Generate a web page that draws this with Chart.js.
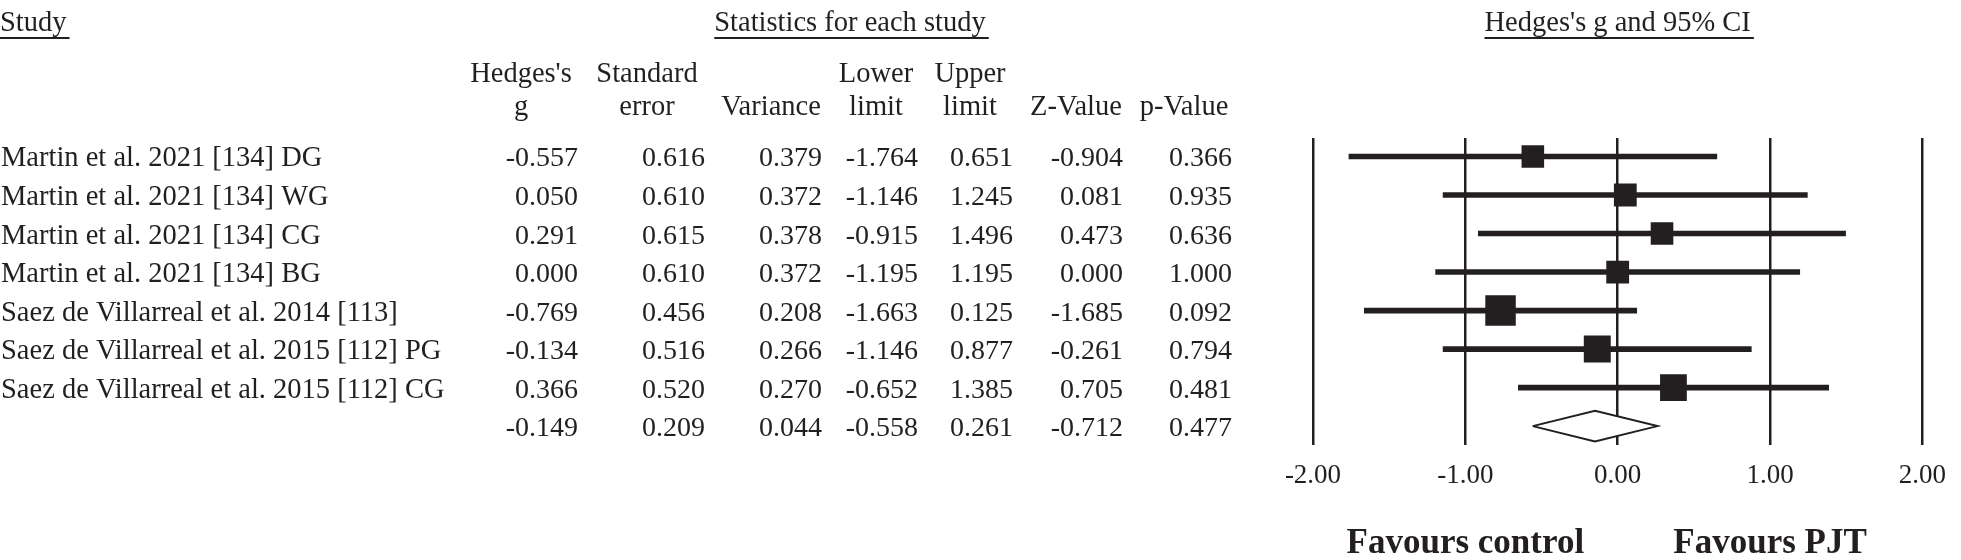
<!DOCTYPE html>
<html>
<head>
<meta charset="utf-8">
<script src="https://cdn.jsdelivr.net/npm/chart.js@4.4.1/dist/chart.umd.min.js"></script>
<style>
  html, body { margin: 0; padding: 0; background: #fff; }
  #wrap { width: 1961px; height: 560px; }
</style>
</head>
<body>
<div id="wrap"><canvas id="forest" width="1961" height="560"></canvas></div>
<script>
// Study rows (the last value of each column is the pooled estimate)
const studies = [
  'Martin et al. 2021 [134] DG',
  'Martin et al. 2021 [134] WG',
  'Martin et al. 2021 [134] CG',
  'Martin et al. 2021 [134] BG',
  'Saez de Villarreal et al. 2014 [113]',
  'Saez de Villarreal et al. 2015 [112] PG',
  'Saez de Villarreal et al. 2015 [112] CG',
];
const hedgesG = [-0.557, 0.050, 0.291, 0.000, -0.769, -0.134, 0.366, -0.149];
const stdError = [0.616, 0.610, 0.615, 0.610, 0.456, 0.516, 0.520, 0.209];
const variance = [0.379, 0.372, 0.378, 0.372, 0.208, 0.266, 0.270, 0.044];
const lowerLimit = [-1.764, -1.146, -0.915, -1.195, -1.663, -1.146, -0.652, -0.558];
const upperLimit = [0.651, 1.245, 1.496, 1.195, 0.125, 0.877, 1.385, 0.261];
const zValue = [-0.904, 0.081, 0.473, 0.000, -1.685, -0.261, 0.705, -0.712];
const pValue = [0.366, 0.935, 0.636, 1.000, 0.092, 0.794, 0.481, 0.477];
const xTicks = [-2, -1, 0, 1, 2];

const columnHeads = [
  ["Hedges's", 'g'],
  ['Standard', 'error'],
  ['', 'Variance'],
  ['Lower', 'limit'],
  ['Upper', 'limit'],
  ['', 'Z-Value'],
  ['', 'p-Value'],
];

const INK = '#231f20';
const SERIF = '"Liberation Serif", "Times New Roman", serif';
const TEXT_FONT = '28.5px ' + SERIF;
const NUM_FONT = '28px ' + SERIF;

// table layout (pixels)
const colRight = [578, 705, 822, 918, 1013, 1123, 1232];
const headCenter = [521, 647, 771, 876, 970, 1076, 1184];

const nStudies = studies.length;
const summaryRow = nStudies;

function put(ctx, str, x, y, align, font) {
  ctx.font = font || TEXT_FONT;
  ctx.textAlign = align;
  ctx.textBaseline = 'alphabetic';
  ctx.fillText(str, x, y);
  return ctx.measureText(str).width;
}

function underlined(ctx, str, x, y, align) {
  const w = put(ctx, str, x, y, align);
  const left = align === 'center' ? x - w / 2 : x;
  ctx.fillRect(left, y + 6.5, w + 3, 2);
}

const tablePlugin = {
  id: 'forestTable',
  afterDraw(chart) {
    const { ctx } = chart;
    const x = chart.scales.x;
    const y = chart.scales.y;
    ctx.save();
    ctx.fillStyle = INK;

    underlined(ctx, 'Study', 0, 30.5, 'left');
    underlined(ctx, 'Statistics for each study', 850, 30.5, 'center');
    underlined(ctx, "Hedges's g and 95% CI", x.getPixelForValue(0), 30.5, 'center');

    columnHeads.forEach((lines, c) => {
      put(ctx, lines[0], headCenter[c], 82, 'center');
      put(ctx, lines[1], headCenter[c], 115, 'center');
    });

    studies.forEach((name, i) => {
      put(ctx, name, 1, y.getPixelForValue(i) + 10, 'left');
    });

    const cols = [hedgesG, stdError, variance, lowerLimit, upperLimit, zValue, pValue];
    cols.forEach((col, c) => {
      col.forEach((v, i) => {
        put(ctx, v.toFixed(3), colRight[c], y.getPixelForValue(i) + 10, 'right', NUM_FONT);
      });
    });

    const bold = 'bold 35px ' + SERIF;
    put(ctx, 'Favours control', x.getPixelForValue(-1), 553, 'center', bold);
    put(ctx, 'Favours PJT', x.getPixelForValue(1), 553, 'center', bold);
    ctx.restore();
  },
};

const studyIdx = studies.map((_, i) => i);

// marker side grows with study weight (1 / variance)
const markerRadius = studyIdx.map((i) => 13.9 / Math.sqrt(variance[i]) / Math.SQRT2);

const diamondHalf = 0.4;
const diamond = [
  { x: lowerLimit[summaryRow], y: summaryRow },
  { x: hedgesG[summaryRow], y: summaryRow - diamondHalf },
  { x: upperLimit[summaryRow], y: summaryRow },
  { x: hedgesG[summaryRow], y: summaryRow + diamondHalf },
  { x: lowerLimit[summaryRow], y: summaryRow },
];

const chart = new Chart(document.getElementById('forest'), {
  type: 'scatter',
  data: {
    datasets: [
      {
        // point estimates
        type: 'scatter',
        data: studyIdx.map((i) => ({ x: hedgesG[i], y: i })),
        pointStyle: 'rect',
        pointRadius: markerRadius,
        pointBorderWidth: 0,
        pointBackgroundColor: INK,
        order: 0,
      },
      {
        // confidence intervals
        type: 'bar',
        indexAxis: 'y',
        data: studyIdx.map((i) => ({ x: [lowerLimit[i], upperLimit[i]], y: i })),
        backgroundColor: INK,
        borderWidth: 0,
        barThickness: 5,
        order: 1,
      },
      {
        // pooled estimate
        type: 'scatter',
        data: diamond,
        showLine: true,
        tension: 0,
        borderColor: INK,
        borderWidth: 2,
        borderJoinStyle: 'miter',
        backgroundColor: '#ffffff',
        fill: 'shape',
        pointRadius: 0,
        order: 2,
      },
    ],
  },
  options: {
    responsive: false,
    devicePixelRatio: 1,
    animation: false,
    events: [],
    layout: {
      padding: { left: 1313, right: 27, top: 138, bottom: 53 },
    },
    plugins: {
      legend: { display: false },
      tooltip: { enabled: false },
    },
    scales: {
      x: {
        type: 'linear',
        min: -2,
        max: 2,
        offset: false,
        afterBuildTicks: (scale) => {
          scale.ticks = xTicks.map((v) => ({ value: v }));
        },
        border: { display: false },
        grid: {
          color: INK,
          lineWidth: 2.5,
          drawTicks: false,
          offset: false,
        },
        ticks: {
          color: INK,
          padding: 15,
          maxRotation: 0,
          font: { family: SERIF, size: 27 },
          callback: (value) => Number(value).toFixed(2),
        },
      },
      y: {
        type: 'linear',
        display: false,
        reverse: true,
        offset: false,
        grid: { offset: false },
        min: -0.48,
        max: 7.48,
      },
    },
  },
  plugins: [tablePlugin],
});
</script>
</body>
</html>
